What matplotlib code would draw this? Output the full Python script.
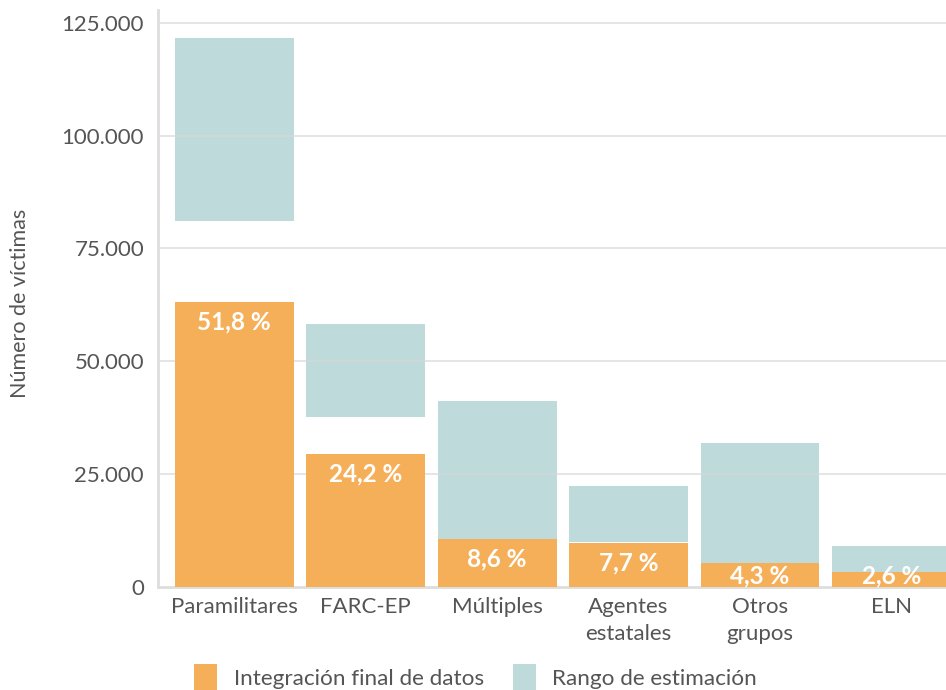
import matplotlib
matplotlib.use("Agg")
import matplotlib.pyplot as plt
from matplotlib.patches import Patch

categories = ["Paramilitares", "FARC-EP", "Múltiples", "Agentes\nestatales", "Otros\ngrupos", "ELN"]
integracion = [63200, 29500, 10600, 9700, 5300, 3300]
rango_bajo = [81000, 37700, 10600, 9900, 5300, 3300]
rango_alto = [121700, 58300, 41200, 22400, 31900, 9100]
porcentajes = ["51,8 %", "24,2 %", "8,6 %", "7,7 %", "4,3 %", "2,6 %"]
yticks = [0, 25000, 50000, 75000, 100000, 125000]
ytick_labels = ["0", "25.000", "50.000", "75.000", "100.000", "125.000"]

orange = "#f6af59"
teal = "#bfdada"
grey_text = "#555555"

plt.rcParams['font.family'] = ['Lato', 'DejaVu Sans']

fig = plt.figure(figsize=(9.46, 6.9), dpi=100)
ax = fig.add_axes([158/946, 1 - 587/690, 1 - 158/946 + 0.01, (587 - 10)/690])

x = list(range(len(categories)))
w = 0.905
ax.bar(x, [h - l for h, l in zip(rango_alto, rango_bajo)], bottom=rango_bajo,
       width=w, color=teal, zorder=1, linewidth=0)
for yt in yticks[1:]:
    ax.axhline(yt, color="#d8d8d8", lw=1.2, zorder=2, alpha=0.8)
ax.bar(x, integracion, width=w, color=orange, zorder=3, linewidth=0)

for xi, v, p in zip(x, integracion, porcentajes):
    ax.text(xi, max(v - 4400, 2500), p, ha="center", va="center",
            color="white", fontsize=17.5, fontweight="bold", zorder=4)

ax.set_xlim(-0.58, 5.415 + 0.01 * 946 / 131.4)
ax.set_ylim(0, 127800)
ax.set_yticks(yticks)
ax.set_yticklabels(ytick_labels, fontsize=16, color=grey_text)
ax.set_xticks(x)
ax.set_xticklabels(categories, fontsize=16, color=grey_text, linespacing=1.45)
ax.tick_params(axis="both", length=0, pad=10)
ax.tick_params(axis="x", pad=7)

for s in ["top", "right"]:
    ax.spines[s].set_visible(False)
ax.spines["left"].set_color("#dddddd")
ax.spines["left"].set_linewidth(2)
ax.spines["bottom"].set_color("#dddddd")
ax.spines["bottom"].set_linewidth(2)

fig.text(20/946, 1 - 303/690, "Número de víctimas", rotation=90, ha="center", va="center",
         fontsize=15.5, color=grey_text)

handles = [Patch(facecolor=orange, edgecolor="none"), Patch(facecolor=teal, edgecolor="none")]
fig.legend(handles, ["Integración final de datos", "Rango de estimación"],
           loc="center left", bbox_to_anchor=(174/946, 1 - 678/690), ncol=2, frameon=False,
           fontsize=16.2, handlelength=1.0, handleheight=1.6, columnspacing=1.3, handletextpad=0.75,
           labelcolor=grey_text)

fig.savefig("out.png", dpi=100)
